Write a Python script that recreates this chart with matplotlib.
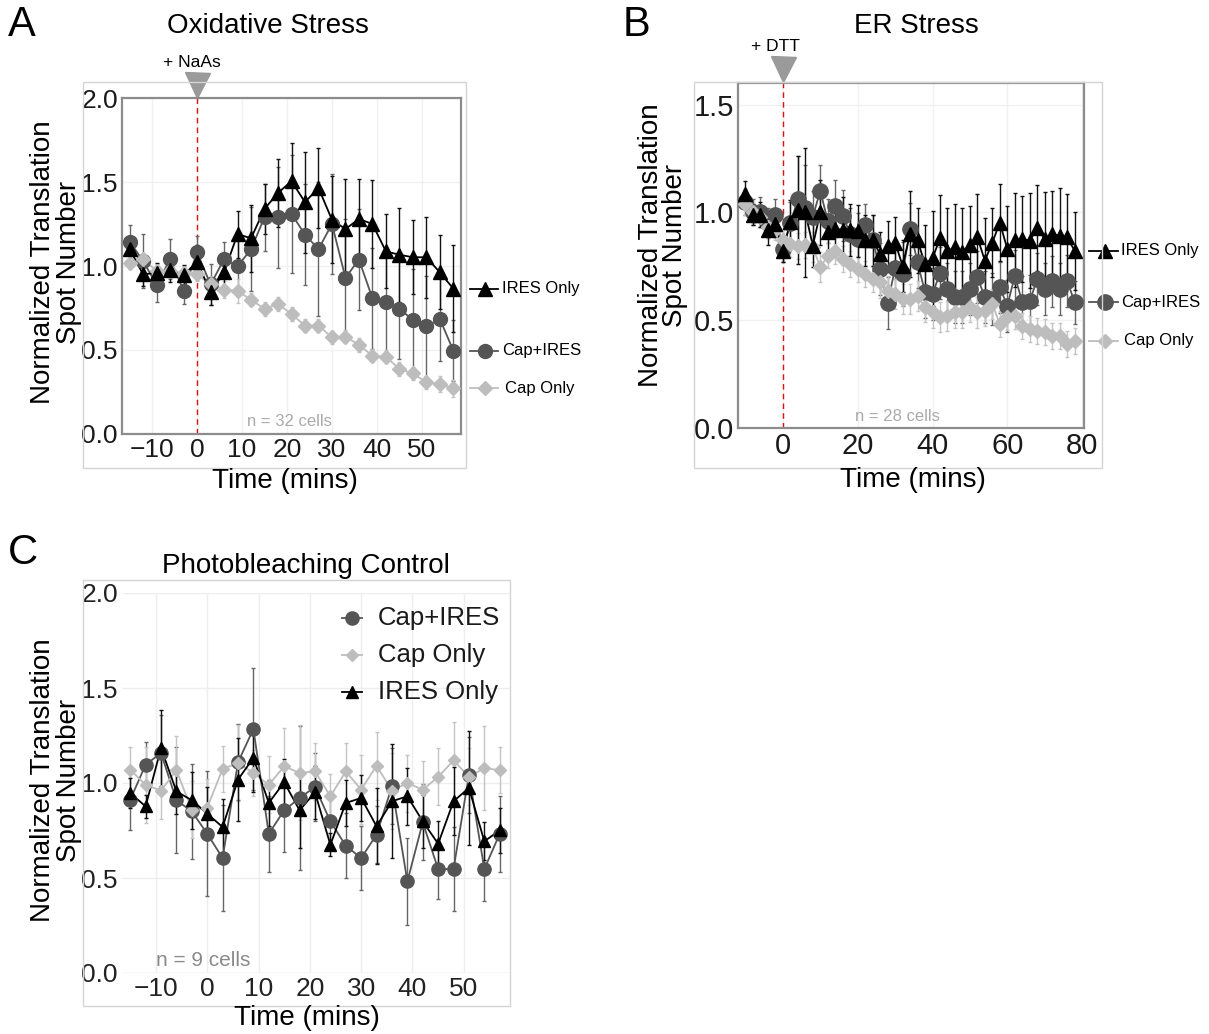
import matplotlib.pyplot as plt
import matplotlib.transforms as mtransforms
from matplotlib.patches import Rectangle

plt.rcParams['font.family'] = ['Liberation Sans', 'DejaVu Sans']

# ---- Panel A: oxidative stress (NaAs), one point every 3 min ----
a_time = [-15, -12, -9, -6, -3, 0, 3, 6, 9, 12, 15, 18, 21, 24, 27, 30, 33, 36, 39, 42, 45, 48, 51, 54, 57]
a_ires = [1.10, 0.95, 0.96, 0.975, 0.946, 1.025, 0.845, 0.962, 1.19, 1.165, 1.34, 1.435, 1.505, 1.38, 1.465,
          1.275, 1.22, 1.28, 1.25, 1.087, 1.067, 1.052, 1.052, 0.962, 0.865]
a_ires_err = [0.08, 0.07, 0.06, 0.07, 0.06, 0.1, 0.08, 0.08, 0.14, 0.2, 0.15, 0.2, 0.23, 0.3, 0.24,
              0.26, 0.3, 0.24, 0.26, 0.22, 0.28, 0.22, 0.24, 0.22, 0.26]
a_capires = [1.145, 1.03, 0.887, 1.04, 0.853, 1.081, 0.89, 1.04, 0.998, 1.10, 1.29, 1.29, 1.31, 1.187, 1.10,
             1.25, 0.93, 1.038, 0.808, 0.788, 0.744, 0.68, 0.64, 0.684, 0.496]
a_capires_err = [0.1, 0.16, 0.1, 0.12, 0.08, 0.1, 0.12, 0.1, 0.16, 0.25, 0.2, 0.3, 0.35, 0.3, 0.4,
                 0.3, 0.35, 0.3, 0.3, 0.3, 0.3, 0.3, 0.3, 0.25, 0.18]
a_caponly = [1.02, 1.04, 0.97, 0.97, 0.96, 0.95, 0.89, 0.86, 0.85, 0.80, 0.744, 0.774, 0.714, 0.645, 0.645,
             0.575, 0.58, 0.53, 0.466, 0.46, 0.387, 0.361, 0.307, 0.298, 0.272]
a_caponly_err = [0.04, 0.04, 0.04, 0.04, 0.04, 0.04, 0.05, 0.05, 0.07, 0.04, 0.04, 0.04, 0.04, 0.04, 0.04,
                 0.04, 0.04, 0.04, 0.04, 0.04, 0.04, 0.04, 0.04, 0.05, 0.05]

# ---- Panel B: ER stress (DTT), one point every 2 min ----
b_time = [-10, -8, -6, -4, -2, 0, 2, 4, 6, 8, 10, 12, 14, 16, 18, 20, 22, 24, 26, 28, 30, 32, 34,
          36, 38, 40, 42, 44, 46, 48, 50, 52, 54, 56, 58, 60, 62, 64, 66, 68, 70, 72, 74, 76, 78]
b_ires = [1.085, 0.99, 0.99, 0.92, 0.946, 0.82, 0.957, 1.01, 1.0, 0.845, 1.0, 0.907, 0.923, 0.92, 0.92,
          0.915, 0.87, 0.87, 0.807, 0.842, 0.86, 0.753, 0.9, 0.87, 0.76, 0.787, 0.88, 0.822, 0.838, 0.818,
          0.848, 0.884, 0.776, 0.86, 0.953, 0.83, 0.872, 0.876, 0.869, 0.926, 0.876, 0.9, 0.892, 0.884, 0.822]
b_ires_err = [0.06, 0.05, 0.06, 0.07, 0.06, 0.05, 0.1, 0.25, 0.3, 0.1, 0.15, 0.08, 0.12, 0.15, 0.12,
              0.12, 0.12, 0.12, 0.1, 0.12, 0.12, 0.12, 0.2, 0.15, 0.18, 0.22, 0.2, 0.2, 0.2, 0.2,
              0.18, 0.2, 0.2, 0.16, 0.18, 0.2, 0.22, 0.2, 0.22, 0.2, 0.22, 0.2, 0.22, 0.2, 0.18]
b_capires = [1.05, 1.0, 1.0, 0.95, 0.99, 0.83, 0.95, 1.06, 1.02, 0.98, 1.10, 0.96, 1.03, 0.985, 0.9,
             0.876, 0.94, 0.87, 0.737, 0.58, 0.74, 0.714, 0.923, 0.768, 0.63, 0.62, 0.72, 0.645, 0.606, 0.606,
             0.645, 0.7, 0.606, 0.6, 0.652, 0.567, 0.706, 0.583, 0.59, 0.69, 0.645, 0.68, 0.645, 0.683, 0.583]
b_capires_err = [0.06, 0.06, 0.07, 0.07, 0.07, 0.06, 0.1, 0.2, 0.2, 0.12, 0.12, 0.1, 0.12, 0.12, 0.12,
                 0.12, 0.1, 0.12, 0.12, 0.12, 0.12, 0.15, 0.12, 0.12, 0.12, 0.12, 0.12, 0.12, 0.12, 0.12,
                 0.12, 0.12, 0.12, 0.12, 0.12, 0.12, 0.12, 0.12, 0.12, 0.12, 0.12, 0.12, 0.12, 0.12, 0.1]
b_caponly = [1.04, 1.0, 0.98, 0.93, 0.92, 0.87, 0.853, 0.845, 0.85, 0.84, 0.745, 0.8, 0.822, 0.784, 0.76,
             0.737, 0.714, 0.69, 0.675, 0.637, 0.62, 0.598, 0.598, 0.614, 0.56, 0.536, 0.513, 0.52, 0.536, 0.536,
             0.56, 0.536, 0.544, 0.575, 0.482, 0.513, 0.52, 0.474, 0.459, 0.451, 0.444, 0.428, 0.428, 0.39, 0.405]
b_caponly_err = [0.05, 0.05, 0.05, 0.05, 0.05, 0.05, 0.06, 0.06, 0.06, 0.07, 0.07, 0.06, 0.06, 0.06, 0.06,
                 0.06, 0.06, 0.06, 0.07, 0.07, 0.07, 0.07, 0.07, 0.07, 0.07, 0.07, 0.07, 0.07, 0.07, 0.07,
                 0.07, 0.07, 0.07, 0.07, 0.06, 0.06, 0.06, 0.06, 0.06, 0.06, 0.06, 0.06, 0.06, 0.06, 0.06]

# ---- Panel C: photobleaching control ----
c_time = [-15, -12, -9, -6, -3, 0, 3, 6, 9, 12, 15, 18, 21, 24, 27, 30, 33, 36, 39, 42, 45, 48, 51, 54, 57]
c_capires = [0.912, 1.096, 1.158, 0.909, 0.851, 0.733, 0.605, 1.109, 1.284, 0.733, 0.856, 0.921, 0.979,
             0.798, 0.67, 0.605, 0.728, 0.982, 0.482, 0.793, 0.547, 0.547, 1.044, 0.547, 0.733]
c_capires_err = [0.16, 0.12, 0.2, 0.28, 0.25, 0.33, 0.28, 0.2, 0.32, 0.2, 0.22, 0.38, 0.18, 0.15, 0.17,
                 0.17, 0.15, 0.2, 0.23, 0.2, 0.16, 0.22, 0.2, 0.17, 0.2]
c_caponly = [1.07, 0.99, 0.96, 1.067, 0.86, 0.87, 1.074, 1.105, 1.053, 0.99, 1.088, 1.053, 1.061, 0.93,
             1.061, 0.965, 1.091, 0.96, 1.0, 0.965, 1.032, 1.119, 1.032, 1.079, 1.067]
c_caponly_err = [0.12, 0.2, 0.15, 0.18, 0.15, 0.15, 0.12, 0.2, 0.12, 0.15, 0.2, 0.25, 0.15, 0.12, 0.15,
                 0.18, 0.18, 0.2, 0.15, 0.15, 0.15, 0.2, 0.15, 0.22, 0.12]
c_ires = [0.947, 0.877, 1.184, 0.956, 0.909, 0.839, 0.768, 1.018, 1.132, 0.895, 1.004, 0.856, 0.951, 0.675,
          0.895, 0.921, 0.772, 0.904, 0.93, 0.798, 0.68, 0.904, 0.974, 0.693, 0.751]
c_ires_err = [0.08, 0.06, 0.2, 0.12, 0.15, 0.14, 0.15, 0.22, 0.18, 0.12, 0.12, 0.2, 0.14, 0.06, 0.12,
              0.12, 0.2, 0.3, 0.15, 0.14, 0.12, 0.18, 0.3, 0.1, 0.12]

series_names = ['Cap+IRES', 'Cap Only', 'IRES Only']
colors = {'Cap+IRES': '#555555', 'Cap Only': '#bdbdbd', 'IRES Only': '#000000'}
ecolors = {'Cap+IRES': '#666666', 'Cap Only': '#c4c4c4', 'IRES Only': '#111111'}
markers = {'Cap+IRES': 'o', 'Cap Only': 'D', 'IRES Only': '^'}

W, H = 1209, 1034
fig = plt.figure(figsize=(W / 100, H / 100), dpi=100)


def fx(px):
    return px / W


def fy(py):
    return 1 - py / H


def add_axes(left, top, right, bottom):
    return fig.add_axes([fx(left), fy(bottom), fx(right) - fx(left), fy(top) - fy(bottom)])


def outer_box(left, top, right, bottom):
    fig.add_artist(Rectangle((fx(left), fy(bottom)), fx(right) - fx(left), fy(top) - fy(bottom),
                             transform=fig.transFigure, fill=False, ec='#d4d4d4', lw=1))


def draw_panel(ax, t, data, sizes):
    # ggplot-like layering: all error bars, then all lines, then all points
    for name in series_names:
        y, err = data[name]
        ax.errorbar(t, y, yerr=err, fmt='none', ecolor=ecolors[name], elinewidth=1.0,
                    capsize=1.5, capthick=1.0, zorder=2)
    for name in series_names:
        y, _ = data[name]
        ax.plot(t, y, '-', color=colors[name], lw=1.3, zorder=3)
    for i, name in enumerate(series_names):
        y, _ = data[name]
        ax.plot(t, y, ls='none', marker=markers[name], ms=sizes[name], color=colors[name],
                mec=colors[name], zorder=4 + i)


def boxed_style(ax, labelsize):
    for sp in ax.spines.values():
        sp.set_color('#8c8c8c')
        sp.set_linewidth(1.6)
    ax.grid(True, color='#f1f1f1', lw=1)
    ax.set_axisbelow(True)
    ax.tick_params(length=0, pad=3, labelsize=labelsize, colors='#1a1a1a')


def side_labels(ax, data, mx, x0, x1, tx, sizes):
    tr = mtransforms.blended_transform_factory(fig.transFigure, ax.transData)
    for name in ['IRES Only', 'Cap+IRES', 'Cap Only']:
        yv = data[name][0][-1]
        ax.plot([fx(x0), fx(x1)], [yv, yv], '-', color=colors[name], lw=1.3, transform=tr, clip_on=False)
        ax.plot([fx(mx)], [yv], marker=markers[name], ms=sizes[name], color=colors[name],
                transform=tr, clip_on=False)
        ax.text(fx(tx + (3 if name == 'Cap Only' else 0)), yv, name, transform=tr, fontsize=12,
                va='center', ha='left')


def treatment_mark(ax, xpos, text, text_x):
    tr = mtransforms.blended_transform_factory(ax.transData, ax.transAxes)
    ax.axvline(0, color='#e01010', ls=(0, (4, 3)), lw=1.0, zorder=1.5)
    ax.plot([xpos], [1.04], marker='v', ms=18, color='#9a9a9a', transform=tr, clip_on=False)
    ax.text(text_x, 1.105, text, transform=tr, ha='center', va='center', fontsize=12.5)


ylabel = 'Normalized Translation\nSpot Number'

# ---------------- Panel A ----------------
axA = add_axes(122, 98, 461, 434)
dataA = {'Cap+IRES': (a_capires, a_capires_err), 'Cap Only': (a_caponly, a_caponly_err),
         'IRES Only': (a_ires, a_ires_err)}
sizesA = {'Cap+IRES': 10, 'Cap Only': 7.5, 'IRES Only': 9.5}
draw_panel(axA, a_time, dataA, sizesA)
axA.set_xlim(-16.7, 58.7)
axA.set_ylim(0, 2.0)
axA.set_xticks([-10, 0, 10, 20, 30, 40, 50])
axA.set_yticks([0.0, 0.5, 1.0, 1.5, 2.0])
axA.set_yticklabels(['0.0', '0.5', '1.0', '1.5', '2.0'])
boxed_style(axA, 19)
treatment_mark(axA, 0, '+ NaAs', -1.1)
axA.text(0.493, 0.036, 'n = 32 cells', transform=axA.transAxes, ha='center', va='center',
         fontsize=12, color='#aaaaaa')
side_labels(axA, dataA, 485, 470, 498, 502, sizesA)
outer_box(83, 82, 466, 468)
fig.text(fx(8), fy(25), 'A', fontsize=30, ha='left', va='center')
fig.text(fx(268), fy(26), 'Oxidative Stress', fontsize=20, ha='center', va='center')
fig.text(fx(56), fy(262), ylabel, fontsize=20, rotation=90, ha='center', va='center',
         linespacing=0.95, multialignment='center')
fig.text(fx(285), fy(481), 'Time (mins)', fontsize=20, ha='center', va='center')

# ---------------- Panel B ----------------
axB = add_axes(738, 83, 1084, 428)
dataB = {'Cap+IRES': (b_capires, b_capires_err), 'Cap Only': (b_caponly, b_caponly_err),
         'IRES Only': (b_ires, b_ires_err)}
sizesB = {'Cap+IRES': 11, 'Cap Only': 7.5, 'IRES Only': 10.5}
draw_panel(axB, b_time, dataB, sizesB)
axB.set_xlim(-12, 80.5)
axB.set_ylim(0, 1.6)
axB.set_xticks([0, 20, 40, 60, 80])
axB.set_yticks([0.0, 0.5, 1.0, 1.5])
axB.set_yticklabels(['0.0', '0.5', '1.0', '1.5'])
boxed_style(axB, 21)
treatment_mark(axB, 0, '+ DTT', -2.1)
axB.text(0.46, 0.032, 'n = 28 cells', transform=axB.transAxes, ha='center', va='center',
         fontsize=12, color='#aaaaaa')
side_labels(axB, dataB, 1105, 1089, 1118, 1121, sizesB)
outer_box(694, 82, 1102, 468)
fig.text(fx(623), fy(25), 'B', fontsize=30, ha='left', va='center')
fig.text(fx(916), fy(26), 'ER Stress', fontsize=20, ha='center', va='center')
fig.text(fx(663), fy(245), ylabel, fontsize=20, rotation=90, ha='center', va='center',
         linespacing=0.95, multialignment='center')
fig.text(fx(913), fy(480), 'Time (mins)', fontsize=20, ha='center', va='center')

# ---------------- Panel C ----------------
axC = add_axes(122, 593, 510, 973)
dataC = {'Cap+IRES': (c_capires, c_capires_err), 'Cap Only': (c_caponly, c_caponly_err),
         'IRES Only': (c_ires, c_ires_err)}
sizesC = {'Cap+IRES': 9.5, 'Cap Only': 6.5, 'IRES Only': 9}
draw_panel(axC, c_time, dataC, sizesC)
axC.set_xlim(-16.6, 59.0)
axC.set_ylim(0, 2.0)
axC.set_xticks([-10, 0, 10, 20, 30, 40, 50])
axC.set_yticks([0.0, 0.5, 1.0, 1.5, 2.0])
axC.set_yticklabels(['0.0', '0.5', '1.0', '1.5', '2.0'])
for sp in axC.spines.values():
    sp.set_visible(False)
axC.grid(True, color='#eeeeee', lw=1)
axC.set_axisbelow(True)
axC.axhline(2.0, color='#dddddd', lw=1.2, zorder=0.5)
axC.axhline(0.0, color='#e2e2e2', lw=1.0, zorder=0.5)
axC.tick_params(length=0, pad=3, labelsize=19, colors='#222222')
axC.text(0.209, 0.034, 'n = 9 cells', transform=axC.transAxes, ha='center', va='center',
         fontsize=15, color='#8a8a8a')
# legend drawn by hand, ggplot style
for name, yl in zip(series_names, [0.934, 0.837, 0.739]):
    axC.plot([0.567, 0.619], [yl, yl], '-', color=colors[name], lw=1.3, transform=axC.transAxes,
             clip_on=False, zorder=7)
    axC.plot([0.593], [yl], marker=markers[name], ms=sizesC[name], color=colors[name],
             transform=axC.transAxes, clip_on=False, zorder=8)
    axC.text(0.66, yl, name, transform=axC.transAxes, fontsize=18.5, va='center', ha='left',
             color='#1a1a1a')
outer_box(83, 580, 510, 1006)
fig.text(fx(8), fy(553), 'C', fontsize=30, ha='left', va='center')
fig.text(fx(306), fy(566), 'Photobleaching Control', fontsize=20, ha='center', va='center')
fig.text(fx(56), fy(780), ylabel, fontsize=20, rotation=90, ha='center', va='center',
         linespacing=0.95, multialignment='center')
fig.text(fx(307), fy(1018), 'Time (mins)', fontsize=20, ha='center', va='center')

fig.savefig('out.png', dpi=100)
